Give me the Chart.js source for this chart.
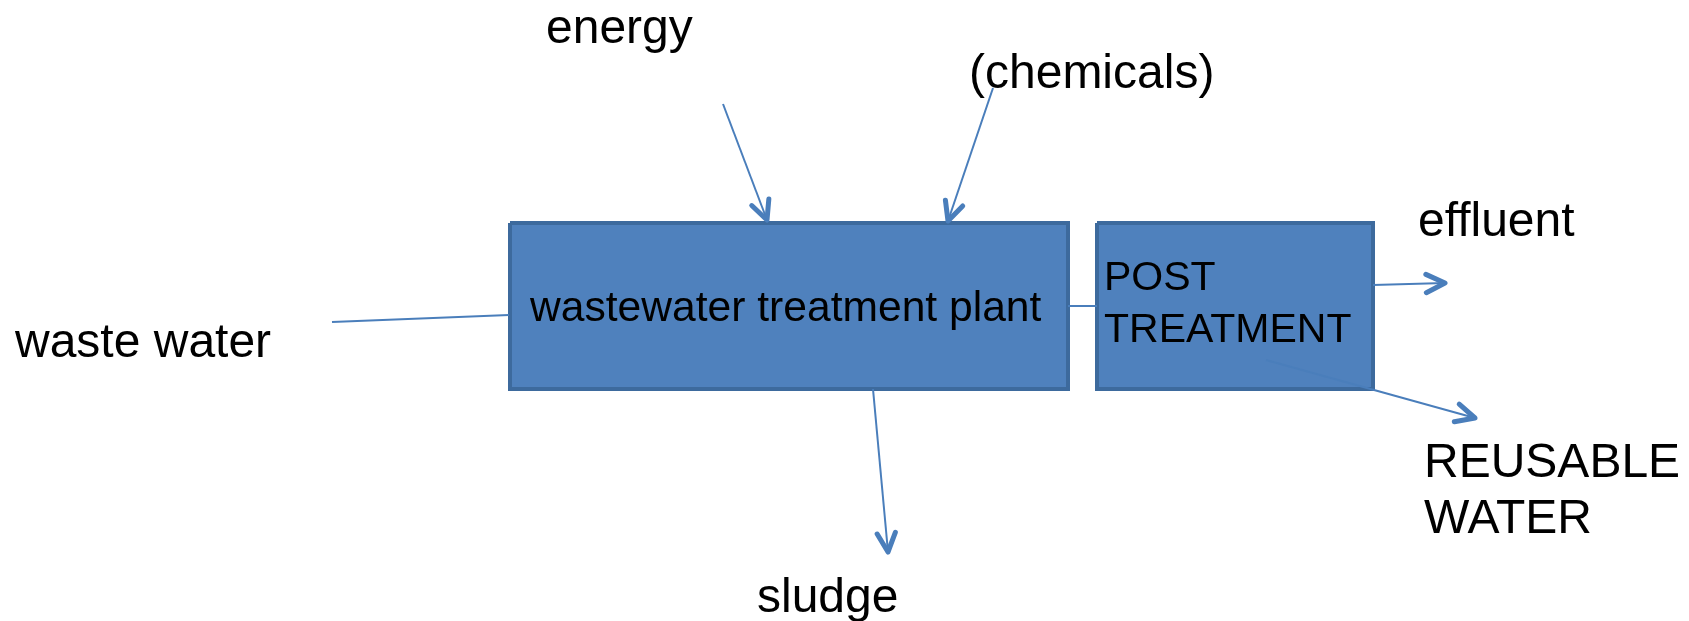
<!DOCTYPE html>
<html>
<head>
<meta charset="utf-8">
<script src="https://cdn.jsdelivr.net/npm/chart.js@4/dist/chart.umd.min.js"></script>
<style>
  html, body { margin: 0; padding: 0; background: #fff; }
  #wrap { width: 1689px; height: 621px; }
</style>
</head>
<body>
<div id="wrap"><canvas id="diagrama"></canvas></div>
<script>
// ===== Dados do diagrama =====
// caixas (centro da borda)
const boxLeft = [510, 1097];
const boxRight = [1068, 1373];
const boxTop = [223, 223];
const boxBottom = [389, 389];

// fluxos (setas)
const flowX0 = [723, 993, 332, 1068, 1373, 873, 1266];
const flowY0 = [104, 88, 322, 306, 285, 389, 360];
const flowX1 = [767, 948, 509, 1097, 1445, 888, 1475];
const flowY1 = [220, 221, 315, 306, 283, 552, 418];
const flowHead = [true, true, false, false, true, true, true];

// textos externos (x esquerda, y linha de base)
const labelText = ["energy", "(chemicals)", "waste water", "effluent", "sludge", "REUSABLE", "WATER"];
const labelX = [546, 969, 15, 1418, 757, 1424, 1424];
const labelY = [43, 88, 357, 236, 612, 477, 533];

// textos dentro das caixas
const boxText = ["wastewater treatment plant", "POST", "TREATMENT"];
const boxTextX = [530, 1104, 1104];
const boxTextY = [321, 290, 342];

const corLinha = "#4a7ebb";

// ===== Datasets =====
const datasets = [];

boxLeft.forEach((l, i) => {
  datasets.push({
    data: [
      { x: l, y: boxTop[i] },
      { x: boxRight[i], y: boxTop[i] },
      { x: boxRight[i], y: boxBottom[i] },
      { x: l, y: boxBottom[i] },
      { x: l, y: boxTop[i] }
    ],
    showLine: true,
    fill: "shape",
    backgroundColor: "#4f81bd",
    borderColor: "#3d6a9d",
    borderWidth: 4,
    borderJoinStyle: "miter",
    pointRadius: 0,
    tension: 0,
    order: 1
  });
});

flowX0.forEach((x0, i) => {
  datasets.push({
    data: [{ x: x0, y: flowY0[i] }, { x: flowX1[i], y: flowY1[i] }],
    showLine: true,
    fill: false,
    borderColor: corLinha,
    borderWidth: 2,
    pointRadius: 0,
    order: 0
  });
});

// ===== Plugin: pontas das setas e textos =====
const diagramaPlugin = {
  id: "diagrama",
  afterDatasetsDraw(chart) {
    const { ctx, scales: { x, y } } = chart;
    ctx.save();

    // pontas
    ctx.strokeStyle = corLinha;
    ctx.lineWidth = 5;
    ctx.lineCap = "round";
    ctx.lineJoin = "round";
    flowX0.forEach((x0, i) => {
      if (!flowHead[i]) return;
      const px0 = x.getPixelForValue(x0), py0 = y.getPixelForValue(flowY0[i]);
      const px1 = x.getPixelForValue(flowX1[i]), py1 = y.getPixelForValue(flowY1[i]);
      const ang = Math.atan2(py1 - py0, px1 - px0);
      const len = 21, abre = 0.45;
      ctx.beginPath();
      ctx.moveTo(px1 - len * Math.cos(ang - abre), py1 - len * Math.sin(ang - abre));
      ctx.lineTo(px1, py1);
      ctx.lineTo(px1 - len * Math.cos(ang + abre), py1 - len * Math.sin(ang + abre));
      ctx.stroke();
    });

    // textos
    ctx.fillStyle = "#000";
    ctx.textAlign = "left";
    ctx.textBaseline = "alphabetic";
    ctx.font = "48px 'Liberation Sans', Arial, sans-serif";
    labelText.forEach((t, i) => {
      ctx.fillText(t, x.getPixelForValue(labelX[i]), y.getPixelForValue(labelY[i]));
    });
    boxText.forEach((t, i) => {
      ctx.font = (i === 0 ? "42.6px" : "41px") + " 'Liberation Sans', Arial, sans-serif";
      ctx.fillText(t, x.getPixelForValue(boxTextX[i]), y.getPixelForValue(boxTextY[i]));
    });
    ctx.restore();
  }
};

// ===== Gráfico =====
new Chart(document.getElementById("diagrama"), {
  type: "scatter",
  data: { datasets },
  options: {
    responsive: true,
    maintainAspectRatio: false,
    animation: false,
    layout: { padding: 0 },
    plugins: { legend: { display: false }, tooltip: { enabled: false } },
    scales: {
      x: { type: "linear", min: 0, max: 1689, display: false },
      y: { type: "linear", min: 0, max: 621, reverse: true, display: false }
    }
  },
  plugins: [diagramaPlugin]
});
</script>
</body>
</html>
